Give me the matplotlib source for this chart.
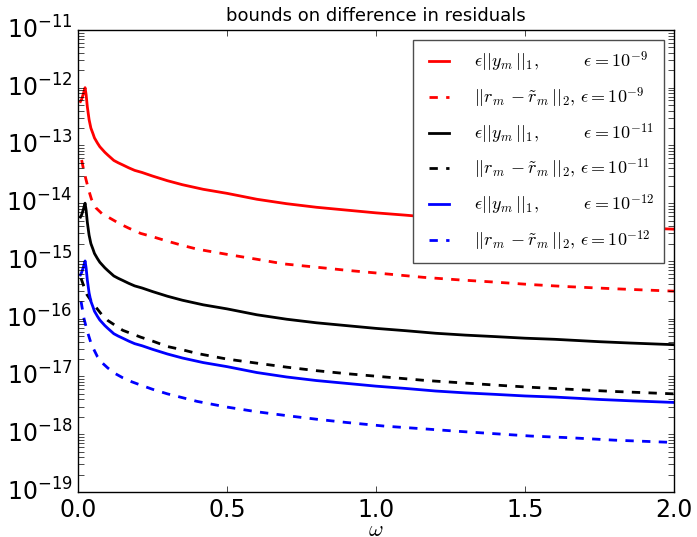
import numpy as np
import matplotlib
matplotlib.use("Agg")
import matplotlib.pyplot as plt
from matplotlib.ticker import FixedLocator, FuncFormatter

# ||y_m||_1 (the three solid curves are eps * this)
omega_y = [0.008, 0.012, 0.018, 0.0235, 0.027, 0.031, 0.037, 0.043, 0.05, 0.055,
           0.065, 0.073, 0.09, 0.1, 0.12, 0.135, 0.15, 0.17, 0.19, 0.215,
           0.25, 0.3, 0.35, 0.42, 0.5, 0.6, 0.7, 0.8, 0.9, 1.0,
           1.1, 1.2, 1.3, 1.4, 1.5, 1.6, 1.75, 1.85, 2.0]
ynorm = [5.75e-4, 6.3e-4, 7.9e-4, 1.0e-3, 7.6e-4, 4.7e-4, 2.8e-4, 2.0e-4, 1.6e-4, 1.35e-4,
         1.1e-4, 9.5e-5, 7.6e-5, 6.8e-5, 5.5e-5, 5.0e-5, 4.6e-5, 4.1e-5, 3.7e-5, 3.4e-5,
         2.95e-5, 2.45e-5, 2.09e-5, 1.74e-5, 1.48e-5, 1.17e-5, 9.8e-6, 8.5e-6, 7.6e-6, 6.8e-6,
         6.2e-6, 5.6e-6, 5.2e-6, 4.9e-6, 4.6e-6, 4.4e-6, 4.0e-6, 3.8e-6, 3.55e-6]

# ||r_m - r~_m||_2 for each epsilon (dashed curves)
omega_r9 = [0.012, 0.02, 0.029, 0.037, 0.045, 0.06, 0.08, 0.11, 0.14, 0.17,
            0.21, 0.25, 0.3, 0.35, 0.4, 0.5, 0.6, 0.69, 0.8, 0.9,
            1.03, 1.16, 1.28, 1.4, 1.52, 1.64, 1.8, 2.0]
resid9 = [5.6e-14, 3.5e-14, 2.3e-14, 1.6e-14, 1.17e-14, 8.3e-15, 6.6e-15, 5.4e-15, 4.4e-15, 3.7e-15,
          3.0e-15, 2.63e-15, 2.2e-15, 1.86e-15, 1.6e-15, 1.3e-15, 1.07e-15, 8.9e-16, 7.8e-16, 6.9e-16,
          6.0e-16, 5.2e-16, 4.7e-16, 4.3e-16, 3.9e-16, 3.6e-16, 3.3e-16, 3.0e-16]

omega_r11 = [0.01, 0.02, 0.03, 0.045, 0.06, 0.08, 0.1, 0.15, 0.21, 0.25,
             0.3, 0.35, 0.4, 0.5, 0.6, 0.7, 0.8, 0.9, 1.03, 1.17,
             1.28, 1.4, 1.52, 1.65, 1.8, 2.0]
resid11 = [5.0e-16, 3.55e-16, 2.6e-16, 2.0e-16, 1.58e-16, 1.17e-16, 9.3e-17, 6.3e-17, 4.8e-17, 4.1e-17,
           3.3e-17, 2.9e-17, 2.5e-17, 2.0e-17, 1.7e-17, 1.45e-17, 1.26e-17, 1.12e-17, 9.8e-18, 8.5e-18,
           7.8e-18, 7.1e-18, 6.5e-18, 6.0e-18, 5.5e-18, 5.0e-18]

omega_r12 = [0.01, 0.02, 0.03, 0.045, 0.065, 0.08, 0.1, 0.125, 0.15, 0.18,
             0.21, 0.25, 0.3, 0.35, 0.4, 0.5, 0.6, 0.7, 0.8, 0.9,
             1.03, 1.17, 1.28, 1.4, 1.52, 1.65, 1.8, 2.0]
resid12 = [2.0e-16, 1.0e-16, 6.3e-17, 3.55e-17, 2.2e-17, 1.74e-17, 1.4e-17, 1.12e-17, 9.5e-18, 8.1e-18,
           7.1e-18, 6.0e-18, 5.0e-18, 4.3e-18, 3.7e-18, 2.95e-18, 2.45e-18, 2.1e-18, 1.82e-18, 1.6e-18,
           1.38e-18, 1.23e-18, 1.12e-18, 1.02e-18, 9.3e-19, 8.7e-19, 7.9e-19, 7.2e-19]

eps_labels = ['-9', '-11', '-12']
eps_values = [1e-9, 1e-11, 1e-12]
colors = ['r', 'k', 'b']

plt.style.use('classic')
plt.rcParams['mathtext.fontset'] = 'cm'

fig = plt.figure(figsize=(6.97, 5.37), dpi=100, facecolor='white')
ax = fig.add_axes([0.112, 0.0838, 0.855, 0.8605])

dashed = [(omega_r9, resid9), (omega_r11, resid11), (omega_r12, resid12)]
for e_lab, e_val, c, (om_r, res) in zip(eps_labels, eps_values, colors, dashed):
    ax.semilogy(omega_y, np.array(ynorm) * e_val, c + '-', lw=2,
                label=r'$\epsilon||y_m\,||_1,\qquad\ \ \epsilon=10^{%s}$' % e_lab)
    ax.semilogy(om_r, res, c + '--', lw=2,
                label=r'$||r_m\,-\tilde{r}_m\,||_2,\,\epsilon=10^{%s}$' % e_lab)

ax.set_xlim(0, 2.0)
ax.set_ylim(1e-19, 1e-11)
ax.set_xticks([0.0, 0.5, 1.0, 1.5, 2.0])
ax.yaxis.set_major_locator(FixedLocator([10.0 ** k for k in range(-19, -10)]))
ax.yaxis.set_minor_locator(FixedLocator([m * 10.0 ** k for k in range(-19, -11) for m in range(2, 10)]))
ax.yaxis.set_major_formatter(FuncFormatter(
    lambda v, p: r'$\mathregular{10^{%d}}$' % int(round(np.log10(v)))))
ax.tick_params(labelsize=17)
ax.tick_params(which='minor', length=4)
ax.set_title('bounds on difference in residuals', fontsize=13, y=1.005)
ax.set_xlabel(r'$\omega$', fontsize=16)
ax.xaxis.set_label_coords(0.5, -0.061)

leg = ax.legend(loc='upper right', fontsize=13, handlelength=1.7, handletextpad=1.1,
                borderaxespad=0.55, labelspacing=0.62, borderpad=0.55)
leg.get_frame().set_edgecolor('0.3')

fig.savefig('out.png', dpi=100, facecolor='white')
